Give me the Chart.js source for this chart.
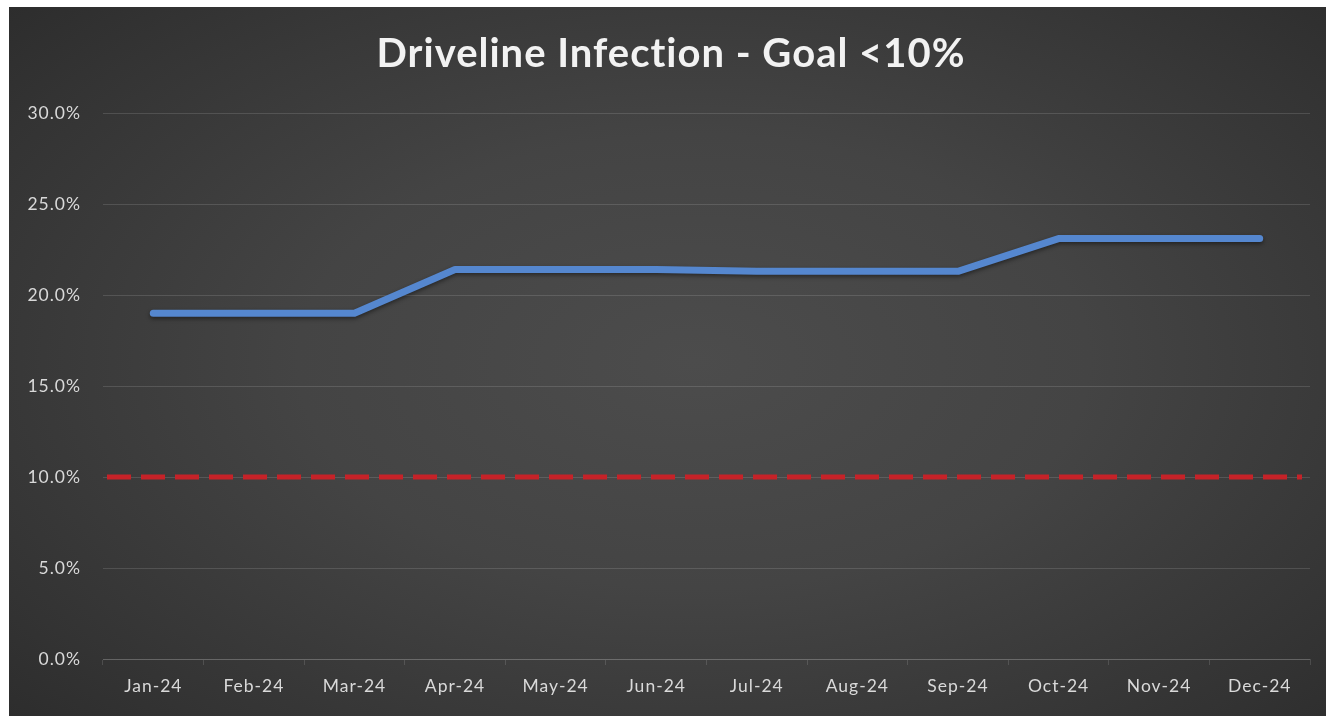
<!DOCTYPE html>
<html>
<head>
<meta charset="utf-8">
<script src="https://cdn.jsdelivr.net/npm/chart.js@4/dist/chart.umd.min.js"></script>
<style>
  html, body { margin: 0; padding: 0; background: #ffffff; width: 1326px; height: 716px; overflow: hidden; }
  #wrap {
    position: absolute; left: 9px; top: 7px; width: 1317px; height: 709px;
    background: radial-gradient(ellipse 75% 80% at 52% 50%, #4c4c4c 0%, #444444 40%, #333333 80%, #2a2a2a 100%);
  }
  canvas { display: block; }
</style>
</head>
<body>
<div id="wrap"><canvas id="c" width="1317" height="709"></canvas></div>
<script>
const categories = ['Jan-24','Feb-24','Mar-24','Apr-24','May-24','Jun-24','Jul-24','Aug-24','Sep-24','Oct-24','Nov-24','Dec-24'];
const infectionRate = [19.0, 19.0, 19.0, 21.4, 21.4, 21.4, 21.3, 21.3, 21.3, 23.1, 23.1, 23.1];
const goalValue = 10;
const yTicks = [0, 5, 10, 15, 20, 25, 30];
const titleText = 'Driveline Infection - Goal <10%';

const spacingPlugin = {
  id: 'spacing',
  beforeInit(chart) { chart.ctx.letterSpacing = '1px'; },
  beforeUpdate(chart) { chart.ctx.letterSpacing = '1px'; },
  beforeDraw(chart) { chart.ctx.letterSpacing = '1px'; },
  afterLayout(chart) {
    const t = chart.titleBlock;
    if (t) { t.left += 4; t.right += 4; }
  }
};

const goalLinePlugin = {
  id: 'goalLine',
  beforeDatasetsDraw(chart) {
    const { ctx, chartArea, scales } = chart;
    const y = scales.y.getPixelForValue(goalValue);
    ctx.save();
    ctx.strokeStyle = '#c62228';
    ctx.lineWidth = 5;
    ctx.setLineDash([24, 10]);
    ctx.beginPath();
    ctx.moveTo(chartArea.left + 4, y);
    ctx.lineTo(chartArea.right - 8, y);
    ctx.stroke();
    ctx.restore();
  }
};

const lineShadowPlugin = {
  id: 'lineShadow',
  beforeDatasetDraw(chart) {
    const ctx = chart.ctx;
    ctx.save();
    ctx.shadowColor = 'rgba(0,0,0,0.45)';
    ctx.shadowBlur = 4;
    ctx.shadowOffsetY = 2;
  },
  afterDatasetDraw(chart) {
    chart.ctx.restore();
  }
};

const gridColor = 'rgba(255,255,255,0.13)';

new Chart(document.getElementById('c'), {
  type: 'line',
  data: {
    labels: categories,
    datasets: [{
      label: 'Driveline Infection',
      data: infectionRate,
      borderColor: '#5587cf',
      borderWidth: 7,
      borderCapStyle: 'round',
      borderJoinStyle: 'round',
      pointRadius: 0,
      tension: 0,
      fill: false
    }]
  },
  options: {
    responsive: false,
    animation: false,
    layout: { padding: { left: 15, right: 16, top: 0, bottom: 8 } },
    plugins: {
      legend: { display: false },
      tooltip: { enabled: false },
      title: {
        display: true,
        text: titleText,
        color: '#f2f2f2',
        font: { family: 'Lato', size: 40, weight: 'bold' },
        padding: { top: 23, bottom: 35 }
      }
    },
    scales: {
      x: {
        offset: true,
        grid: {
          offset: true,
          drawOnChartArea: false,
          drawTicks: true,
          tickLength: 6,
          color: gridColor
        },
        border: { display: true, color: gridColor, width: 1 },
        ticks: {
          color: '#d9d9d9',
          font: { family: 'Lato', size: 17.5 },
          padding: 11,
          maxRotation: 0
        }
      },
      y: {
        min: 0,
        max: 30,
        afterBuildTicks(scale) { scale.ticks = yTicks.map(v => ({ value: v })); },
        afterFit(scale) { scale.width = 79; },
        grid: { color: gridColor, drawTicks: false },
        border: { display: false },
        ticks: {
          color: '#d9d9d9',
          font: { family: 'Lato', size: 17.5 },
          padding: 22,
          callback: v => v.toFixed(1) + '%'
        }
      }
    }
  },
  plugins: [spacingPlugin, goalLinePlugin, lineShadowPlugin]
});
</script>
</body>
</html>
